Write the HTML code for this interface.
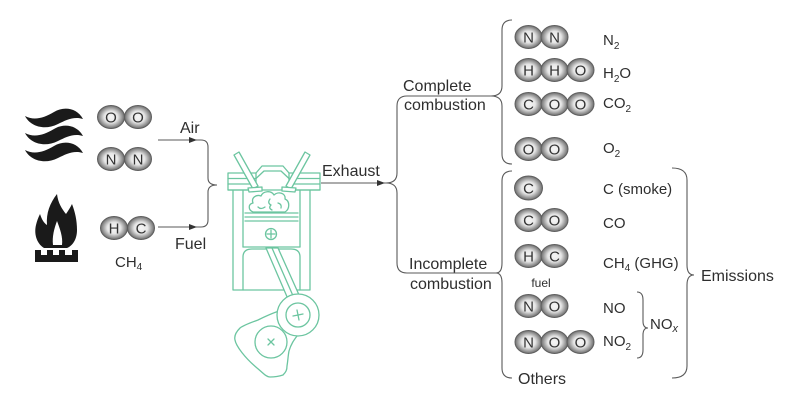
<!DOCTYPE html>
<html>
<head>
<meta charset="utf-8">
<style>
  html,body{margin:0;padding:0;background:#fff;}
  svg{display:block;}
  text{font-family:"Liberation Sans", Arial, sans-serif;fill:#2e2e2e;}
  .lbl{font-size:16px;}
  .f{font-size:15px;}
  .a{font-size:15px;text-anchor:middle;fill:#333;}
  .br{fill:none;stroke:#5a5a5a;stroke-width:1.1;}
  .en{fill:none;stroke:#6cc5a0;stroke-width:1.3;stroke-linejoin:round;stroke-linecap:round;}
  .enw{fill:#fff;stroke:#6cc5a0;stroke-width:1.3;stroke-linejoin:round;stroke-linecap:round;}
  .at{fill:url(#g);stroke:#5e5e5e;stroke-width:1;}
</style>
</head>
<body>
<svg width="800" height="402" viewBox="0 0 800 402" xmlns="http://www.w3.org/2000/svg">
  <defs>
    <radialGradient id="g" cx="50%" cy="50%" r="50%">
      <stop offset="0" stop-color="#f6f6f6"/>
      <stop offset="0.5" stop-color="#e6e6e6"/>
      <stop offset="0.75" stop-color="#a9a9a9"/>
      <stop offset="1" stop-color="#6c6c6c"/>
    </radialGradient>
  </defs>
  <rect width="800" height="402" fill="#fff"/>

  <!-- Wind icon -->
  <g fill="#1a1a1a">
    <path d="M25,116 C30,126 44,131 58,124 C66,120 74,116 83,119 C77,108 64,106 54,112 C44,118 34,121 25,116 Z"/>
    <path d="M25,133 C30,143 44,148 58,141 C66,137 74,133 83,136 C77,125 64,123 54,129 C44,135 34,138 25,133 Z"/>
    <path d="M25,150 C30,160 44,165 58,158 C66,154 74,150 83,153 C77,142 64,140 54,146 C44,152 34,155 25,150 Z"/>
  </g>

  <!-- Flame icon -->
  <g fill="#1a1a1a">
    <path d="M44,248 C36,243 34,233 36,225 C37,221 38,218 40,214 C42,220 44,223 47,225 C46,213 50,203 57,194 C58,203 62,209 66,214 C68,211 70,208 72,204 C75,212 77,220 77,230 C77,240 72,246 67,248 Z"/>
    <path d="M53,245 C52,237 54,229 57,221 C60,229 63,237 62,245 Z" fill="#fff"/>
    <rect x="35" y="255" width="43" height="7"/>
    <rect x="35" y="250" width="6" height="6"/>
    <rect x="47" y="250" width="6" height="6"/>
    <rect x="59" y="250" width="6" height="6"/>
    <rect x="72" y="250" width="6" height="6"/>
  </g>

  <!-- Left molecules -->
  <ellipse class="at" cx="111" cy="117" rx="13.5" ry="11.5"/>
  <ellipse class="at" cx="138" cy="117" rx="13.5" ry="11.5"/>
  <text class="a" x="111" y="122.5">O</text><text class="a" x="138" y="122.5">O</text>

  <ellipse class="at" cx="111" cy="159" rx="13.5" ry="11.5"/>
  <ellipse class="at" cx="138" cy="159" rx="13.5" ry="11.5"/>
  <text class="a" x="111" y="164.5">N</text><text class="a" x="138" y="164.5">N</text>

  <ellipse class="at" cx="114" cy="228" rx="13.5" ry="11.5"/>
  <ellipse class="at" cx="141" cy="228" rx="13.5" ry="11.5"/>
  <text class="a" x="114" y="233.5">H</text><text class="a" x="141" y="233.5">C</text>

  <text class="f" x="115" y="267">CH<tspan font-size="10" dy="3">4</tspan></text>

  <!-- Air / Fuel brace -->
  <text class="lbl" x="180" y="133">Air</text>
  <text class="lbl" x="175" y="249">Fuel</text>
  <path class="br" d="M158,140 L201,140 Q208,140 208,147 L208,178 Q208,185 217,185 Q208,185 208,192 L208,220 Q208,227 201,227 L158,227"/>
  <polygon points="189,137 197,140 189,143" fill="#333"/>
  <polygon points="189,224 197,227 189,230" fill="#333"/>

  <!-- Engine -->
  <g>
    <path class="en" d="M233,190 L233,290 L310,290 L310,190"/>
    <path class="en" d="M243,190 L243,247 M300,190 L300,247"/>
    <path class="en" d="M243,290 L243,257 Q243,249 252,249 L291,249 Q300,249 300,257 L300,290"/>
    <path class="en" d="M245,213 L298,213 M245,217 L298,217 M245,221 L298,221 M243,247 L300,247"/>
    <circle class="en" cx="271" cy="234" r="5.5"/>
    <path class="en" d="M271,230 L271,238 M267,234 L275,234"/>
    <path class="enw" d="M279,311 C270,314 262,318 258,320 C250,323 244,325 240,328 C236,332 234,336 235,340 C236,346 245,358 257,368 C262,372 266,377 270,377 C275,377 280,376 283,375 C286,372 287,370 287,366 C288,360 288,356 289,351 C291,344 294,340 297,336 Z"/>
    <circle class="en" cx="271" cy="342" r="16"/>
    <path class="en" d="M268,339 L274,345 M274,339 L268,345"/>
    <path class="enw" d="M266,248 L278,248 L304,306 L291,306 Z"/>
    <path class="en" d="M272,248 L297.5,306"/>
    <circle class="enw" cx="298" cy="315" r="21"/>
    <circle class="en" cx="298" cy="315" r="12"/>
    <path class="en" d="M297,310 L299,320 M293,316 L303,314"/>
    <rect class="enw" x="228" y="173" width="28" height="17"/>
    <rect class="enw" x="289" y="173" width="31" height="17"/>
    <path class="en" d="M228,178.5 L256,178.5 M228,184 L256,184 M289,178.5 L320,178.5 M289,184 L320,184"/>
    <path class="en" d="M256,173 L262,166 L283,166 L289,173"/>
    <path class="en" d="M256,178.5 L264,171 L281,171 L289,178.5"/>
    <path class="en" d="M228,190 L320,190"/>
    <polygon class="enw" points="234,155 239,152 258,186 253,189"/>
    <path class="enw" d="M248,188 L262,187 L262,191 L249,192 Z"/>
    <polygon class="enw" points="310,155 305,152 286,186 291,189"/>
    <path class="enw" d="M282,187 L296,188 L295,192 L282,191 Z"/>
    <path class="enw" d="M253,212 C248,210 248,204 253,203 C251,198 256,194 261,196 C263,191 271,190 274,195 C278,191 286,193 285,199 C290,201 290,209 285,212 Z"/>
    <path class="en" d="M258,207 Q261,210 265,207 M270,199 Q267,203 271,205 Q268,208 272,210 M278,203 Q282,204 281,208"/>
  </g>

  <!-- Exhaust -->
  <text class="lbl" x="322" y="176">Exhaust</text>
  <path class="br" d="M321,183 L386,183"/>
  <polygon points="377,180 385,183 377,186" fill="#333"/>
  <path class="br" d="M386,183 Q397,183 397,173 L397,106 Q397,96 407,96 L491,96"/>
  <path class="br" d="M386,183 Q397,183 397,193 L397,263 Q397,273 407,273 L496,273"/>

  <text class="lbl" x="403" y="91">Complete</text>
  <text class="lbl" x="404" y="110">combustion</text>
  <text class="lbl" x="409" y="269">Incomplete</text>
  <text class="lbl" x="410" y="289">combustion</text>

  <path class="br" d="M512,20 Q502,20 502,30 L502,86 Q502,96 491,96 Q502,96 502,106 L502,154 Q502,164 512,164"/>
  <path class="br" d="M512,171 Q502,171 502,181 L502,263 Q502,273 496,273 Q502,273 502,283 L502,368 Q502,378 512,378"/>

  <!-- Complete molecules -->
  <ellipse class="at" cx="528.5" cy="37" rx="13.5" ry="11.5"/>
  <ellipse class="at" cx="554.5" cy="37" rx="13.5" ry="11.5"/>
  <text class="a" x="528.5" y="42.5">N</text><text class="a" x="554.5" y="42.5">N</text>

  <ellipse class="at" cx="528.5" cy="70" rx="13.5" ry="11.5"/>
  <ellipse class="at" cx="554.5" cy="70" rx="13.5" ry="11.5"/>
  <ellipse class="at" cx="580.5" cy="70" rx="13.5" ry="11.5"/>
  <text class="a" x="528.5" y="75.5">H</text><text class="a" x="554.5" y="75.5">H</text><text class="a" x="580.5" y="75.5">O</text>

  <ellipse class="at" cx="528.5" cy="104" rx="13.5" ry="11.5"/>
  <ellipse class="at" cx="554.5" cy="104" rx="13.5" ry="11.5"/>
  <ellipse class="at" cx="580.5" cy="104" rx="13.5" ry="11.5"/>
  <text class="a" x="528.5" y="109.5">C</text><text class="a" x="554.5" y="109.5">O</text><text class="a" x="580.5" y="109.5">O</text>

  <ellipse class="at" cx="528.5" cy="149" rx="13.5" ry="11.5"/>
  <ellipse class="at" cx="554.5" cy="149" rx="13.5" ry="11.5"/>
  <text class="a" x="528.5" y="154.5">O</text><text class="a" x="554.5" y="154.5">O</text>

  <!-- Incomplete molecules -->
  <ellipse class="at" cx="528.5" cy="188" rx="14" ry="12"/>
  <text class="a" x="528.5" y="193.5">C</text>

  <ellipse class="at" cx="528.5" cy="220" rx="13.5" ry="11.5"/>
  <ellipse class="at" cx="554.5" cy="220" rx="13.5" ry="11.5"/>
  <text class="a" x="528.5" y="225.5">C</text><text class="a" x="554.5" y="225.5">O</text>

  <ellipse class="at" cx="528.5" cy="256" rx="13.5" ry="11.5"/>
  <ellipse class="at" cx="554.5" cy="256" rx="13.5" ry="11.5"/>
  <text class="a" x="528.5" y="261.5">H</text><text class="a" x="554.5" y="261.5">C</text>
  <text x="541" y="287" font-size="12" text-anchor="middle">fuel</text>

  <ellipse class="at" cx="528.5" cy="306" rx="13.5" ry="11.5"/>
  <ellipse class="at" cx="554.5" cy="306" rx="13.5" ry="11.5"/>
  <text class="a" x="528.5" y="311.5">N</text><text class="a" x="554.5" y="311.5">O</text>

  <ellipse class="at" cx="528.5" cy="342" rx="13.5" ry="11.5"/>
  <ellipse class="at" cx="554.5" cy="342" rx="13.5" ry="11.5"/>
  <ellipse class="at" cx="580.5" cy="342" rx="13.5" ry="11.5"/>
  <text class="a" x="528.5" y="347.5">N</text><text class="a" x="554.5" y="347.5">O</text><text class="a" x="580.5" y="347.5">O</text>

  <text class="lbl" x="518" y="384">Others</text>

  <!-- Formula labels -->
  <text class="f" x="603" y="45">N<tspan font-size="10" dy="4">2</tspan></text>
  <text class="f" x="603" y="78">H<tspan font-size="10" dy="4">2</tspan><tspan dy="-4">O</tspan></text>
  <text class="f" x="603" y="108">CO<tspan font-size="10" dy="4">2</tspan></text>
  <text class="f" x="603" y="153">O<tspan font-size="10" dy="4">2</tspan></text>

  <text class="f" x="603" y="194">C (smoke)</text>
  <text class="f" x="603" y="228">CO</text>
  <text class="f" x="603" y="268">CH<tspan font-size="10" dy="3">4</tspan><tspan dy="-3"> (GHG)</tspan></text>
  <text class="f" x="603" y="313">NO</text>
  <text class="f" x="603" y="346">NO<tspan font-size="10" dy="4">2</tspan></text>

  <path class="br" d="M637,292 Q643,292 643,300 L643,321 Q643,328 648,328 Q643,328 643,335 L643,350 Q643,358 637,358"/>
  <text class="f" x="650" y="329">NO<tspan font-size="11" dy="3" font-style="italic">x</tspan></text>

  <path class="br" d="M672,168 Q687,168 687,180 L687,265 Q687,275 694,275 Q687,275 687,285 L687,366 Q687,378 672,378"/>
  <text class="lbl" x="701" y="281">Emissions</text>
</svg>
</body>
</html>
